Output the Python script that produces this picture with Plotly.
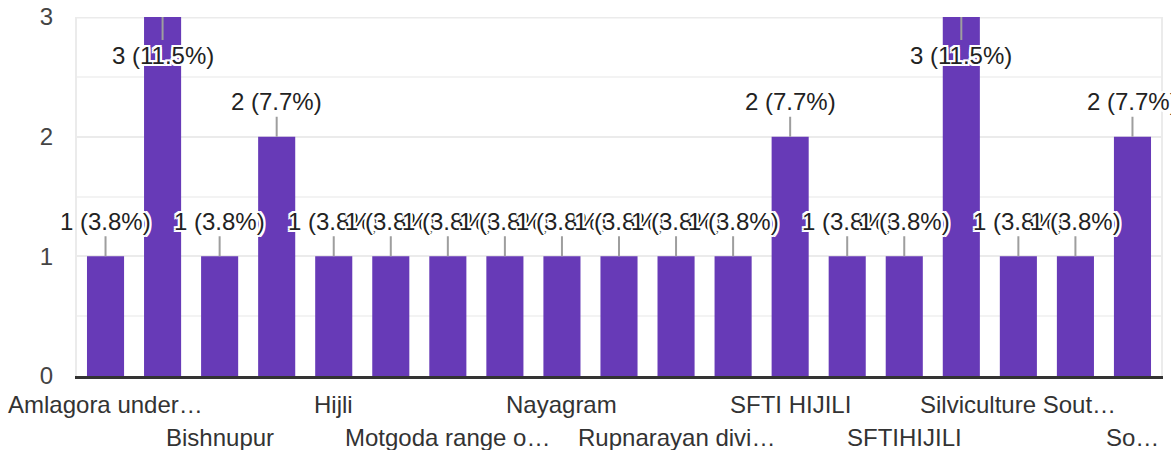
import plotly.graph_objects as go

categories = [
    "Amlagora under…", "Arabari range", "Bishnupur", "Durgapur", "Hijli",
    "Jhargram", "Motgoda range o…", "Nayabasat", "Nayagram", "Panchet",
    "Rupnarayan divi…", "Rupnarayan range", "SFTI HIJILI", "SFTI Hijli",
    "SFTIHIJILI", "Silviculture North", "Silviculture Sout…",
    "Silviculture West", "So…",
]
counts = [1, 3, 1, 2, 1, 1, 1, 1, 1, 1, 1, 1, 2, 1, 1, 3, 1, 1, 2]
y_ticks = [0, 1, 2, 3]

total = sum(counts)
FONT = "Liberation Sans, Arial, sans-serif"
PURPLE = "#673ab7"
halo = ", ".join(
    f"{dx}px {dy}px 0 #fff"
    for dx, dy in [(-2, 0), (2, 0), (0, -2), (0, 2), (-2, -2), (2, 2), (-2, 2), (2, -2)]
)

fig = go.Figure(
    go.Bar(
        x=categories,
        y=counts,
        marker=dict(color=PURPLE, line=dict(width=0)),
        hoverinfo="skip",
    )
)

ymax = max(y_ticks)
for c, v in zip(categories, counts):
    pct = 100 * v / total
    fig.add_annotation(
        x=c, y=v, xref="x", yref="y",
        text=f"{v} ({pct:.1f}%)",
        showarrow=True, arrowhead=0, arrowwidth=2, arrowcolor="#9e9e9e",
        ax=0, ay=(38 if v >= ymax else -35), standoff=0,
        font=dict(family=FONT, size=24, color="#222222", shadow=halo),
    )

# category labels: every other category shown, alternating in two rows
for i, c in enumerate(categories[::2]):
    fig.add_annotation(
        x=c, y=0, xref="x", yref="paper",
        text=c, showarrow=False,
        xanchor="center", yanchor="middle",
        yshift=(-28 if i % 2 == 0 else -61),
        font=dict(family=FONT, size=24, color="#333333"),
    )

# top border of the plot area (light grey, like the grid)
fig.add_shape(
    type="line", xref="paper", yref="y",
    x0=0, x1=1, y0=ymax, y1=ymax,
    line=dict(color="#ebebeb", width=3), layer="below",
)

fig.update_layout(
    template="none",
    width=1171, height=450,
    margin=dict(l=77, r=10, t=17, b=74, autoexpand=False),
    paper_bgcolor="white", plot_bgcolor="white",
    bargap=0.35,
    showlegend=False,
    font=dict(family=FONT, color="#333333"),
    xaxis=dict(
        type="category", automargin=False,
        categoryorder="array", categoryarray=categories,
        range=[-0.5, len(categories) - 0.5],
        showticklabels=False,
        showgrid=False,
        showline=True, linecolor="#333333", linewidth=3,
        ticks="",
    ),
    yaxis=dict(
        automargin=False,
        range=[0, ymax],
        tickmode="array", tickvals=y_ticks,
        tickfont=dict(size=24, color="#444444"),
        showgrid=True, gridcolor="#ebebeb", gridwidth=2,
        minor=dict(dtick=0.5, showgrid=True, gridcolor="#f3f3f3", gridwidth=2),
        zeroline=False,
        showline=True, mirror=True, linecolor="#ebebeb", linewidth=2,
        ticks="", ticklabelstandoff=17,
    ),
)

# remove the browser's default 8px body margin so the figure starts at the corner
fig.write_html(
    "out.html",
    config={"displayModeBar": False},
    post_script="document.body.style.margin='0';document.body.style.padding='0';",
)
